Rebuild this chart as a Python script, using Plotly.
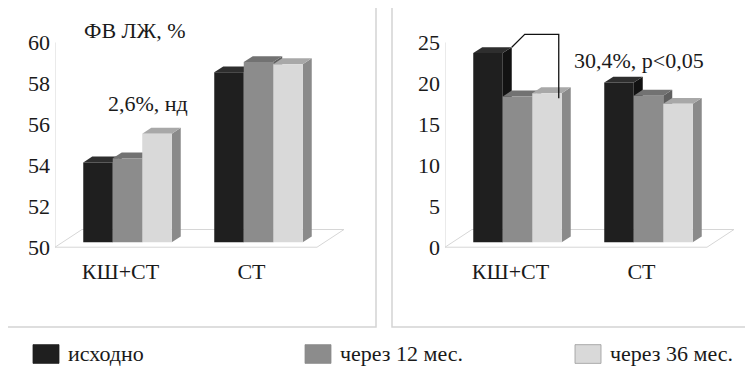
import plotly.graph_objects as go

# ---------------- data ----------------
categories = ["КШ+СТ", "СТ"]
series_names = ["исходно", "через 12 мес.", "через 36 мес."]
# left panel: ФВ ЛЖ, %
lvef_baseline = [53.9, 58.3]
lvef_12m = [54.1, 58.8]
lvef_36m = [55.3, 58.7]
# right panel
right_baseline = [23.1, 19.5]
right_12m = [17.8, 17.9]
right_36m = [18.2, 16.9]
left_ticks = [50, 52, 54, 56, 58, 60]
right_ticks = [0, 5, 10, 15, 20, 25]

# ---------------- style ----------------
W, H = 753, 384
FONT = "Liberation Serif"
FS = 22
TXT = "#1a1a1a"
front_cols = ["#1f1f1f", "#8c8c8c", "#d9d9d9"]
cap_cols = ["#2e2e2e", "#727272", "#a8a8a8"]
side_cols = ["#121212", "#5f5f5f", "#8a8a8a"]
FLOOR = "#d6d6d6"

PPU_X = 131.0          # px per category unit
SHIFT = (7, 5)         # bar front plane offset (px)
DEPTH = (9, 6)         # bar depth (px)
FLOOR_D = (27, 18)     # floor depth (px)
BAR_W = 29.5 / PPU_X
GROUP_W = 3 * BAR_W

fig = go.Figure()


def panel(xa, ya, x_px0, base, top, ppu_y, series, ticks):
    xref = "x" if xa == 1 else "x%d" % xa
    yref = "y" if ya == 1 else "y%d" % ya
    ux = lambda p: p / PPU_X
    uy = lambda p: p / ppu_y
    dom_px = (x_px0, x_px0 + 292)
    y_dom_px = (20, 250)
    y_base_px = 243
    xr = [-0.5, -0.5 + 292 / PPU_X]
    yr = [base - (y_dom_px[1] - y_base_px) / ppu_y, base + (y_base_px - y_dom_px[0]) / ppu_y]
    ax = dict(domain=[dom_px[0] / W, dom_px[1] / W], range=xr, showgrid=False, zeroline=False,
              showline=False, tickvals=[0, 1], ticktext=categories, ticks="",
              tickfont=dict(family=FONT, size=FS, color=TXT), ticklabelstandoff=2, fixedrange=True)
    ay = dict(domain=[1 - y_dom_px[1] / H, 1 - y_dom_px[0] / H], range=yr, showgrid=False,
              zeroline=False, showline=False, tickvals=ticks, ticks="",
              tickfont=dict(family=FONT, size=FS, color=TXT),
              ticklabelstandoff=4, fixedrange=True)
    if xa != 1:
        ay["anchor"] = xref
        ax["anchor"] = yref
    fig.layout["xaxis" if xa == 1 else "xaxis%d" % xa] = ax
    fig.layout["yaxis" if ya == 1 else "yaxis%d" % ya] = ay

    fx, fy = ux(FLOOR_D[0]), uy(FLOOR_D[1])
    fig.add_trace(go.Scatter(x=[-0.5, 1.5, 1.5 + fx, -0.5 + fx, -0.5],
                             y=[base, base, base + fy, base + fy, base],
                             mode="lines", line=dict(color=FLOOR, width=1),
                             xaxis=xref, yaxis=yref, hoverinfo="skip", showlegend=False))
    fig.add_trace(go.Scatter(x=[-0.5, -0.5], y=[base, top], mode="lines",
                             line=dict(color=FLOOR, width=1), xaxis=xref, yaxis=yref,
                             hoverinfo="skip", showlegend=False))
    sx, sy = ux(SHIFT[0]), uy(SHIFT[1])
    dx, dy = ux(DEPTH[0]), uy(DEPTH[1])
    geo = {}
    for i in range(len(categories)):
        for j, vals in enumerate(series):
            v = vals[i]
            x0 = i - GROUP_W / 2 + j * BAR_W + sx
            x1 = x0 + BAR_W
            b = base + sy
            t = v + sy
            geo[(i, j)] = (x0, x1, b, t)
            fig.add_trace(go.Scatter(x=[x1, x1 + dx, x1 + dx, x1, x1], y=[b, b + dy, t + dy, t, b],
                                     mode="lines", fill="toself", fillcolor=side_cols[j],
                                     line=dict(width=0, color=side_cols[j]), xaxis=xref, yaxis=yref,
                                     hoverinfo="skip", showlegend=False))
            fig.add_trace(go.Scatter(x=[x0, x1, x1 + dx, x0 + dx, x0], y=[t, t, t + dy, t + dy, t],
                                     mode="lines", fill="toself", fillcolor=cap_cols[j],
                                     line=dict(width=0, color=cap_cols[j]), xaxis=xref, yaxis=yref,
                                     hoverinfo="skip", showlegend=False))
            fig.add_trace(go.Scatter(x=[x0, x1, x1, x0, x0], y=[b, b, t, t, b],
                                     mode="lines", fill="toself", fillcolor=front_cols[j],
                                     line=dict(width=0, color=front_cols[j]), xaxis=xref, yaxis=yref,
                                     name=series_names[j], hovertemplate="%{fullData.name}<extra></extra>",
                                     showlegend=False))
    return geo, ux, uy, xref, yref


panel(1, 1, 47, 50, 60, 20.8, [lvef_baseline, lvef_12m, lvef_36m], left_ticks)
geo, ux, uy, xr2, yr2 = panel(2, 2, 437, 0, 25, 8.32, [right_baseline, right_12m, right_36m], right_ticks)

# bracket (right panel, КШ+СТ: baseline vs 36 months)
bx0, bx1, bb, bt = geo[(0, 0)]
lx0, lx1, lb, lt = geo[(0, 2)]
p0 = (bx1 + ux(DEPTH[0]), bt + uy(DEPTH[1]))
p1 = (p0[0] + ux(13), p0[1] + uy(13))
p2 = (lx1 - ux(3), p1[1])
p3 = (p2[0], lt - uy(5))
fig.add_trace(go.Scatter(x=[p0[0], p1[0], p2[0], p3[0]], y=[p0[1], p1[1], p2[1], p3[1]],
                         mode="lines", line=dict(color="#111111", width=1.3),
                         xaxis=xr2, yaxis=yr2, hoverinfo="skip", showlegend=False))

# ---------------- panel frames ----------------
FRAME = "#d4d4d4"
shapes = [
    dict(type="rect", xref="paper", yref="paper", x0=-2 / W, x1=368 / W, y0=1 - 324 / H, y1=1 + 5 / H,
         line=dict(color=FRAME, width=1.5), fillcolor="rgba(0,0,0,0)", layer="below"),
    dict(type="rect", xref="paper", yref="paper", x0=384 / W, x1=(W + 3) / W, y0=1 - 324 / H, y1=1 + 5 / H,
         line=dict(color=FRAME, width=1.5), fillcolor="rgba(0,0,0,0)", layer="below"),
]
annotations = [
    dict(text="ФВ ЛЖ, %", x=127 / W, y=1 - 23 / H, xref="paper", yref="paper", showarrow=False,
         xanchor="center", yanchor="middle", font=dict(family=FONT, size=FS, color=TXT)),
    dict(text="2,6%, нд", x=140 / W, y=1 - 97 / H, xref="paper", yref="paper", showarrow=False,
         xanchor="center", yanchor="middle", font=dict(family=FONT, size=FS, color=TXT)),
    dict(text="30,4%, p<0,05", x=631 / W, y=1 - 53 / H, xref="paper", yref="paper", showarrow=False,
         xanchor="center", yanchor="middle", font=dict(family=FONT, size=FS, color=TXT)),
]
leg_x = [25, 297, 567]
for j, name in enumerate(series_names):
    x0 = leg_x[j]
    shapes.append(dict(type="rect", xref="paper", yref="paper", x0=x0 / W, x1=(x0 + 26) / W,
                       y0=1 - 361 / H, y1=1 - 342 / H, fillcolor=front_cols[j],
                       line=dict(color="#9a9a9a" if j == 2 else front_cols[j], width=0.8)))
    annotations.append(dict(text=name, x=(x0 + 33) / W, y=1 - 351 / H, xref="paper", yref="paper",
                            showarrow=False, xanchor="left", yanchor="middle",
                            font=dict(family=FONT, size=FS, color=TXT)))

fig.update_layout(width=W, height=H, margin=dict(l=0, r=0, t=0, b=0),
                  paper_bgcolor="white", plot_bgcolor="rgba(0,0,0,0)",
                  shapes=shapes, annotations=annotations, showlegend=False,
                  font=dict(family=FONT, color=TXT))
fig.write_html("out.html")
